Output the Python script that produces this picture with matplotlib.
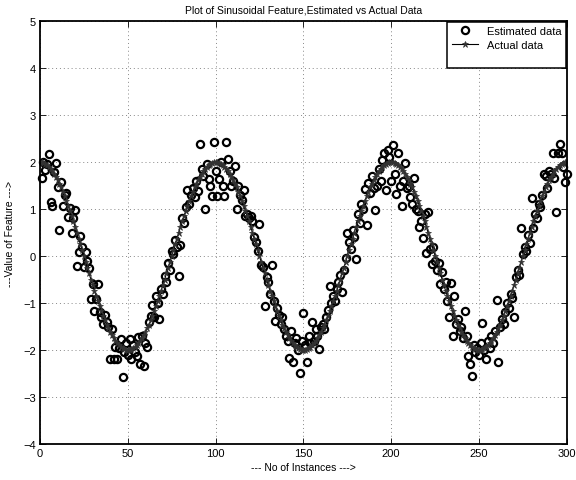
import matplotlib
matplotlib.use("Agg")
import matplotlib.pyplot as plt
from matplotlib.lines import Line2D

plt.rcParams['font.family'] = ['Liberation Sans', 'DejaVu Sans']

x_values = list(range(1, 301))

actual_data = [
    2.00, 1.98, 1.96, 1.94, 1.90, 1.86, 1.81, 1.75, 1.69, 1.62,
    1.54, 1.46, 1.37, 1.27, 1.18, 1.07, 0.96, 0.85, 0.74, 0.62,
    0.50, 0.37, 0.25, 0.13, 0.00, -0.13, -0.25, -0.37, -0.50, -0.62,
    -0.74, -0.85, -0.96, -1.07, -1.18, -1.27, -1.37, -1.46, -1.54, -1.62,
    -1.69, -1.75, -1.81, -1.86, -1.90, -1.94, -1.96, -1.98, -2.00, -2.00,
    -2.00, -1.98, -1.96, -1.94, -1.90, -1.86, -1.81, -1.75, -1.69, -1.62,
    -1.54, -1.46, -1.37, -1.27, -1.18, -1.07, -0.96, -0.85, -0.74, -0.62,
    -0.50, -0.37, -0.25, -0.13, 0.00, 0.13, 0.25, 0.37, 0.50, 0.62,
    0.74, 0.85, 0.96, 1.07, 1.18, 1.27, 1.37, 1.46, 1.54, 1.62,
    1.69, 1.75, 1.81, 1.86, 1.90, 1.94, 1.96, 1.98, 2.00, 2.00,
    2.00, 1.98, 1.96, 1.94, 1.90, 1.86, 1.81, 1.75, 1.69, 1.62,
    1.54, 1.46, 1.37, 1.27, 1.18, 1.07, 0.96, 0.85, 0.74, 0.62,
    0.50, 0.37, 0.25, 0.13, 0.00, -0.13, -0.25, -0.37, -0.50, -0.62,
    -0.74, -0.85, -0.96, -1.07, -1.18, -1.27, -1.37, -1.46, -1.54, -1.62,
    -1.69, -1.75, -1.81, -1.86, -1.90, -1.94, -1.96, -1.98, -2.00, -2.00,
    -2.00, -1.98, -1.96, -1.94, -1.90, -1.86, -1.81, -1.75, -1.69, -1.62,
    -1.54, -1.46, -1.37, -1.27, -1.18, -1.07, -0.96, -0.85, -0.74, -0.62,
    -0.50, -0.37, -0.25, -0.13, 0.00, 0.13, 0.25, 0.37, 0.50, 0.62,
    0.74, 0.85, 0.96, 1.07, 1.18, 1.27, 1.37, 1.46, 1.54, 1.62,
    1.69, 1.75, 1.81, 1.86, 1.90, 1.94, 1.96, 1.98, 2.00, 2.00,
    2.00, 1.98, 1.96, 1.94, 1.90, 1.86, 1.81, 1.75, 1.69, 1.62,
    1.54, 1.46, 1.37, 1.27, 1.18, 1.07, 0.96, 0.85, 0.74, 0.62,
    0.50, 0.37, 0.25, 0.13, 0.00, -0.13, -0.25, -0.37, -0.50, -0.62,
    -0.74, -0.85, -0.96, -1.07, -1.18, -1.27, -1.37, -1.46, -1.54, -1.62,
    -1.69, -1.75, -1.81, -1.86, -1.90, -1.94, -1.96, -1.98, -2.00, -2.00,
    -2.00, -1.98, -1.96, -1.94, -1.90, -1.86, -1.81, -1.75, -1.69, -1.62,
    -1.54, -1.46, -1.37, -1.27, -1.18, -1.07, -0.96, -0.85, -0.74, -0.62,
    -0.50, -0.37, -0.25, -0.13, 0.00, 0.13, 0.25, 0.37, 0.50, 0.62,
    0.74, 0.85, 0.96, 1.07, 1.18, 1.27, 1.37, 1.46, 1.54, 1.62,
    1.69, 1.75, 1.81, 1.86, 1.90, 1.94, 1.96, 1.98, 2.00, 2.00,
]

estimated_data = [
    1.67, 2.00, 1.82, 1.95, 2.18, 1.14, 1.06, 1.78, 1.97, 1.46,
    0.56, 1.58, 1.07, 1.30, 1.34, 0.84, 1.02, 0.49, 0.80, 0.98,
    -0.21, 0.08, 0.43, 0.20, -0.24, 0.09, -0.10, -0.26, -0.91, -0.60,
    -1.18, -0.91, -0.60, -1.20, -1.30, -1.45, -1.25, -1.40, -1.50, -2.19,
    -1.55, -2.20, -1.94, -2.19, -1.95, -1.77, -2.58, -2.05, -1.85, -2.10,
    -1.77, -2.19, -1.90, -2.05, -2.12, -1.73, -2.30, -1.70, -2.35, -1.84,
    -1.94, -1.40, -1.28, -1.05, -1.30, -0.85, -1.00, -1.34, -0.70, -0.80,
    -0.42, -0.55, -0.15, -0.30, 0.10, 0.05, 0.35, 0.20, -0.43, 0.23,
    0.80, 0.70, 1.05, 1.41, 1.10, 1.30, 1.45, 1.25, 1.60, 1.39,
    2.38, 1.85, 1.70, 1.01, 1.95, 1.64, 1.50, 1.27, 2.43, 1.80,
    1.27, 1.64, 2.00, 1.50, 1.27, 2.43, 2.06, 1.80, 1.50, 1.60,
    1.91, 1.00, 1.50, 1.30, 1.20, 1.41, 0.85, 0.90, 0.80, 0.85,
    0.75, 0.40, 0.30, 0.10, 0.68, -0.20, -0.24, -1.06, -0.45, -0.55,
    -0.80, -0.19, -0.95, -1.38, -1.10, -1.25, -1.45, -1.30, -1.55, -1.70,
    -1.80, -2.16, -1.60, -2.25, -1.85, -1.75, -2.00, -2.48, -1.80, -1.22,
    -1.90, -2.26, -1.70, -1.85, -1.40, -1.80, -1.55, -1.70, -1.98, -1.50,
    -1.45, -1.55, -1.30, -1.15, -0.63, -1.00, -0.85, -0.95, -0.70, -0.55,
    -0.40, -0.77, -0.30, -0.05, 0.49, 0.30, 0.15, 0.55, 0.40, -0.06,
    0.90, 0.70, 1.10, 1.00, 1.43, 0.67, 1.55, 1.35, 1.70, 1.45,
    0.98, 1.50, 1.85, 1.60, 2.05, 2.20, 1.40, 2.25, 2.10, 1.60,
    2.36, 1.75, 1.32, 2.20, 1.50, 1.06, 1.60, 1.97, 1.45, 1.50,
    1.25, 1.10, 1.65, 1.00, 0.95, 0.61, 0.75, 0.38, 0.90, 0.06,
    0.93, 0.15, -0.17, 0.20, -0.10, -0.30, -0.15, -0.60, -0.35, -0.70,
    -0.55, -0.95, -1.30, -0.57, -1.71, -0.84, -1.45, -1.35, -1.60, -1.50,
    -1.75, -1.18, -1.70, -2.12, -2.30, -2.55, -1.90, -2.05, -1.95, -2.10,
    -1.85, -1.43, -2.00, -2.19, -1.80, -1.95, -1.70, -1.85, -1.60, -0.93,
    -2.26, -1.50, -1.35, -1.45, -1.20, -1.00, -1.10, -0.80, -0.90, -1.30,
    -0.45, -0.30, -0.40, 0.59, 0.04, 0.20, 0.10, 0.45, 0.28, 1.23,
    0.60, 0.90, 0.80, 1.10, 1.05, 1.30, 1.75, 1.70, 1.45, 1.80,
    1.75, 2.20, 1.65, 0.94, 2.20, 2.38, 2.20, 1.90, 1.57, 1.74,
]

x_ticks = [0, 50, 100, 150, 200, 250, 300]
y_ticks = [-4, -3, -2, -1, 0, 1, 2, 3, 4, 5]

fig = plt.figure(figsize=(5.76, 4.81), dpi=100)
ax = fig.add_axes([0.0694, 0.0748, 0.9146, 0.8794])

ax.plot(x_values, estimated_data, linestyle='none', marker='o',
        markerfacecolor='none', markeredgecolor='black', markersize=5.2,
        markeredgewidth=1.6, label='Estimated data', clip_on=False)
ax.plot(x_values, actual_data, color='black', linewidth=0.8, marker='*',
        markersize=5, markeredgewidth=0.5, markerfacecolor='#333333',
        markeredgecolor='#333333', label='Actual data')

ax.set_xlim(0, 300)
ax.set_ylim(-4, 5)
ax.set_xticks(x_ticks)
ax.set_yticks(y_ticks)
ax.tick_params(direction='in', length=4, width=0.6, top=True, right=True,
               labelsize=8, pad=3)
ax.grid(True, linestyle=(0, (1, 3)), color='#888888', linewidth=0.7)
for sp in ax.spines.values():
    sp.set_linewidth(1.3)

ax.set_title('Plot of Sinusoidal Feature,Estimated vs Actual Data', fontsize=7.5, pad=6)
ax.set_xlabel('--- No of Instances --->', fontsize=7.5, labelpad=3)
ax.set_ylabel('---Value of Feature --->', fontsize=7.5, labelpad=6)

handles, labels = ax.get_legend_handles_labels()
blank = Line2D([], [], linestyle='none', marker='none')
handles.append(blank)
labels.append(' ')
leg = ax.legend(handles, labels, loc='upper right', bbox_to_anchor=(1.0, 1.0),
                borderaxespad=0.05, fontsize=8, frameon=True, fancybox=False,
                handlelength=2.4, handletextpad=0.8, labelspacing=0.35,
                borderpad=0.4)
leg.get_frame().set_edgecolor('black')
leg.get_frame().set_linewidth(1.1)
leg.get_frame().set_alpha(1)

fig.savefig('out.png', dpi=100)
